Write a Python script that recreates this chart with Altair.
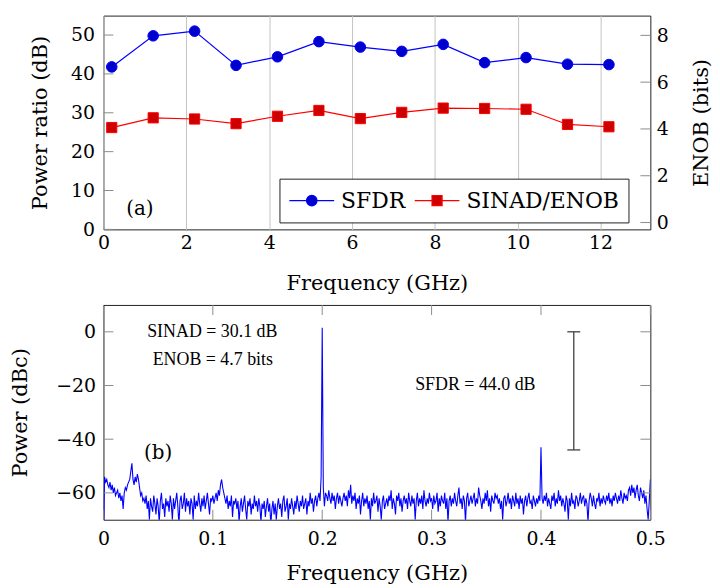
import altair as alt
import pandas as pd

AX_FONT = "DejaVu Serif"
ANN_FONT = "Liberation Serif"

# ---------------- panel (a) data ----------------
freq_a = [0.2, 1.2, 2.2, 3.2, 4.2, 5.2, 6.2, 7.2, 8.2, 9.2, 10.2, 11.2, 12.2]
sfdr_db = [41.8, 49.8, 51.0, 42.2, 44.4, 48.3, 46.9, 45.8, 47.6, 42.9, 44.2, 42.5, 42.4]
sinad_db = [26.2, 28.7, 28.4, 27.2, 29.1, 30.6, 28.5, 30.1, 31.2, 31.1, 30.9, 27.0, 26.4]
series_names = ["SFDR", "SINAD/ENOB"]
x_domain_a = [0, 13.2]
y_domain_db = [0, 55]
xticks_a = [0, 2, 4, 6, 8, 10, 12]
yticks_db = [0, 10, 20, 30, 40, 50]
yticks_enob = [0, 2, 4, 6, 8]

# ---------------- panel (b) data (one bin every 0.001 GHz, 0 .. 0.5) ----------------
spec_step = 0.001
spec_power = [
    -80, -54, -56, -55, -57, -58, -56, -59, -57, -60, -58, -61, -60, -59, -62, -60, -63, -61, -66, -60,
    -58, -59, -57, -56, -55, -52, -49, -55, -57, -54, -56, -53, -55, -58, -61, -60, -63, -62, -64, -61,
    -66, -63, -70, -62, -65, -67, -61, -64, -68, -62, -65, -71, -63, -60, -66, -64, -69, -62, -65, -63,
    -67, -61, -64, -70, -62, -66, -63, -60, -65, -72, -63, -61, -66, -64, -60, -67, -62, -65, -63, -68,
    -62, -64, -70, -61, -66, -63, -65, -60, -64, -67, -62, -65, -61, -66, -63, -60, -64, -68, -62, -63,
    -61, -64, -62, -60, -63, -59, -61, -57, -55, -58, -60, -62, -64, -61, -66, -63, -65, -61, -69, -63,
    -64, -62, -66, -63, -71, -65, -62, -67, -64, -61, -66, -70, -63, -65, -62, -68, -64, -66, -61, -65,
    -63, -67, -62, -65, -71, -64, -66, -63, -69, -65, -62, -67, -64, -72, -66, -63, -68, -64, -70, -65,
    -62, -66, -64, -69, -63, -61, -67, -65, -62, -70, -64, -66, -62, -65, -68, -63, -66, -61, -64, -67,
    -63, -65, -61, -66, -64, -62, -68, -63, -65, -60, -64, -62, -67, -63, -61, -65, -62, -60, -63, -54,
    1.5, -58, -65, -60, -61, -63, -59, -62, -64, -60, -63, -61, -66, -62, -60, -64, -61, -63, -65, -62,
    -60, -63, -61, -65, -59, -62, -57, -64, -61, -63, -60, -66, -62, -64, -61, -68, -63, -60, -65, -62,
    -64, -61, -66, -63, -70, -62, -65, -60, -64, -63, -61, -67, -62, -65, -70, -63, -61, -66, -64, -62,
    -65, -61, -63, -59, -66, -62, -64, -68, -61, -63, -60, -65, -62, -67, -63, -61, -64, -62, -66, -60,
    -63, -65, -61, -64, -62, -70, -63, -60, -65, -62, -64, -61, -66, -59, -63, -65, -62, -64, -60, -63,
    -62, -66, -61, -64, -63, -60, -67, -62, -65, -61, -63, -64, -60, -66, -62, -71, -63, -61, -65, -62,
    -64, -60, -63, -65, -61, -58, -64, -62, -66, -61, -63, -71, -62, -60, -65, -63, -61, -64, -62, -60,
    -65, -62, -64, -58, -61, -63, -66, -62, -64, -60, -63, -59, -65, -62, -67, -61, -63, -64, -60, -62,
    -61, -64, -62, -66, -63, -70, -62, -61, -65, -63, -60, -64, -62, -66, -61, -63, -65, -60, -64, -62,
    -66, -61, -64, -62, -68, -63, -61, -65, -62, -60, -64, -63, -66, -61, -63, -65, -62, -64, -61, -63,
    -43, -62, -64, -61, -63, -60, -65, -62, -64, -66, -61, -63, -60, -65, -62, -64, -59, -63, -61, -65,
    -62, -64, -67, -61, -63, -70, -62, -65, -60, -64, -63, -66, -61, -62, -65, -63, -60, -64, -62, -61,
    -65, -62, -64, -71, -63, -60, -62, -65, -61, -64, -66, -62, -63, -60, -65, -62, -64, -61, -63, -64,
    -61, -63, -60, -64, -62, -65, -61, -63, -60, -62, -64, -61, -63, -59, -62, -64, -60, -62, -61, -63,
    -59, -58, -61, -57, -60, -58, -62, -59, -57, -61, -63, -58, -60, -62, -59, -64, -61, -66, -70, -63,
    -55,
]
x_domain_b = [0, 0.5]
y_domain_b = [-70, 10]
xticks_b = [0, 0.1, 0.2, 0.3, 0.4, 0.5]
yticks_b = [-60, -40, -20, 0]

sfdr_bar_freq = 0.43
sfdr_bar_top = 0.0
sfdr_bar_bottom = -44.0
ann_text = ["SINAD = 30.1 dB", "ENOB = 4.7 bits", "SFDR = 44.0 dB"]
ann_freq = [0.0995, 0.1, 0.34]
ann_power = [0.0, -10.4, -20.0]

# ---------------- tables ----------------
df_a = pd.DataFrame({
    "freq": freq_a + freq_a,
    "value": sfdr_db + sinad_db,
    "series": [series_names[0]] * len(freq_a) + [series_names[1]] * len(freq_a),
})
spec_df = pd.DataFrame({
    "freq": [round(i * spec_step, 4) for i in range(len(spec_power))],
    "power": spec_power,
})

TICK_COLOR = "#8c8c8c"
TICK_LEN = 10


def inward_ticks(xs, ys, xvals, yvals, orient, shift, xaxis=None, yaxis=None):
    """Short inward tick marks along one edge of the frame (positions from the tick lists)."""
    df = pd.DataFrame({"x": xvals, "y": yvals})
    kw = {"xOffset": shift} if orient == "horizontal" else {"yOffset": shift}
    return alt.Chart(df).mark_tick(orient=orient, size=TICK_LEN, thickness=1, color=TICK_COLOR,
                                   opacity=1, **kw).encode(
        x=alt.X("x:Q", scale=xs, axis=xaxis),
        y=alt.Y("y:Q", scale=ys, axis=yaxis),
    )


# ---------------- panel (a) ----------------
xs_a = alt.Scale(domain=x_domain_a, nice=False, zero=False)
ys_db = alt.Scale(domain=y_domain_db, nice=False, zero=False)
ys_enob = alt.Scale(domain=[(y_domain_db[0] - 1.76) / 6.02, (y_domain_db[1] - 1.76) / 6.02],
                    nice=False, zero=False)

# legend samples: a line with the marker in the middle (unit box -1..1)
CIRCLE_LEG = "M-1,0H-0.235M0.235,0H1M-0.235,0A0.235,0.235,0,1,0,0.235,0A0.235,0.235,0,1,0,-0.235,0Z"
SQUARE_LEG = "M-1,0H-0.225M0.225,0H1M-0.225,-0.225H0.225V0.225H-0.225Z"
LEG_LINE = 45

legend_a = alt.Legend(
    title=None, orient="none", legendX=177, legendY=164, direction="horizontal",
    strokeColor="#222222", fillColor="white", padding=9, labelFont=AX_FONT, labelFontSize=22,
    labelColor="black", symbolSize=LEG_LINE * LEG_LINE, symbolStrokeWidth=1.2, clipHeight=26,
    columnPadding=8, labelOffset=6, zindex=1,
)

ticks_a_left = inward_ticks(xs_a, ys_db, [x_domain_a[0]] * len(yticks_db), yticks_db, "horizontal",
                            TICK_LEN / 2)

lines_a = alt.Chart(df_a).transform_calculate(series_l="datum.series + ' '").mark_line(strokeWidth=1.2).encode(
    x=alt.X("freq:Q", scale=xs_a, axis=alt.Axis(
        orient="bottom", values=xticks_a, title="Frequency (GHz)", grid=True, gridColor="#c4c4c4",
        gridWidth=1, ticks=False, tickSize=0, domain=False, labelPadding=4, titlePadding=20,
        labelFlush=False, format="d")),
    y=alt.Y("value:Q", scale=ys_db, axis=alt.Axis(
        orient="left", values=yticks_db, title="Power ratio (dB)", grid=False, ticks=False, tickSize=0,
        domain=False, labelPadding=9, titlePadding=20, labelFlush=False, format="d")),
    color=alt.Color("series_l:N", scale=alt.Scale(domain=[s + " " for s in series_names],
                                                   range=["#0000ff", "#ff0000"]), legend=None),
)

sfdr_pts = alt.Chart(df_a).transform_filter(alt.datum.series == series_names[0]).mark_point(
    shape="circle", filled=True, fill="#0000cc", stroke="#0000ff", strokeWidth=1, size=113, opacity=1
).encode(
    x=alt.X("freq:Q", scale=xs_a, axis=None),
    y=alt.Y("value:Q", scale=ys_db, axis=None),
)
sinad_pts = alt.Chart(df_a).transform_filter(alt.datum.series == series_names[1]).mark_point(
    shape="square", filled=True, fill="#cc0000", stroke="#ff0000", strokeWidth=1, size=105, opacity=1
).encode(
    x=alt.X("freq:Q", scale=xs_a, axis=None),
    y=alt.Y("value:Q", scale=ys_db, axis=None),
)

# legend-only layer: no rows are drawn, the entries come from the fixed scale domains
legend_layer = alt.Chart(df_a).transform_filter("false").mark_point(
    filled=True, opacity=1, strokeWidth=1.2
).encode(
    x=alt.X("freq:Q", scale=xs_a, axis=None),
    y=alt.Y("value:Q", scale=ys_db, axis=None),
    shape=alt.Shape("series:N", scale=alt.Scale(domain=series_names, range=[CIRCLE_LEG, SQUARE_LEG]),
                    legend=legend_a),
    fill=alt.Fill("series:N", scale=alt.Scale(domain=series_names, range=["#0000cc", "#cc0000"]),
                  legend=legend_a),
    stroke=alt.Stroke("series:N", scale=alt.Scale(domain=series_names, range=["#0000ff", "#ff0000"]),
                      legend=legend_a),
)

label_a = alt.Chart(pd.DataFrame({"freq": [0.88], "value": [5.2], "t": ["(a)"]})).mark_text(
    font=AX_FONT, fontSize=20, color="black", align="center", baseline="middle"
).encode(
    x=alt.X("freq:Q", scale=xs_a, axis=None),
    y=alt.Y("value:Q", scale=ys_db, axis=None),
    text="t:N",
)

left_a = alt.layer(lines_a, ticks_a_left, sfdr_pts, sinad_pts, label_a, legend_layer).resolve_axis(
    x="independent", y="independent")

# right (ENOB) axis carried by its inward tick marks
right_a = inward_ticks(
    xs_a, ys_enob, [x_domain_a[1]] * len(yticks_enob), yticks_enob, "horizontal", -TICK_LEN / 2,
    yaxis=alt.Axis(orient="right", values=yticks_enob, title="ENOB (bits)", titleAngle=270,
                   titleBaseline="top", grid=False, ticks=False, tickSize=0, domain=False,
                   labelPadding=6, titlePadding=22, labelFlush=False, format="d"),
)

panel_a = alt.layer(left_a, right_a).resolve_scale(y="independent").properties(width=550, height=215)

# ---------------- panel (b) ----------------
xs_b = alt.Scale(domain=x_domain_b, nice=False, zero=False)
ys_b = alt.Scale(domain=y_domain_b, nice=False, zero=False)

ticks_b = [
    inward_ticks(xs_b, ys_b, [x_domain_b[0]] * len(yticks_b), yticks_b, "horizontal", TICK_LEN / 2),
    inward_ticks(xs_b, ys_b, [x_domain_b[1]] * len(yticks_b), yticks_b, "horizontal", -TICK_LEN / 2),
    inward_ticks(xs_b, ys_b, xticks_b, [y_domain_b[0]] * len(xticks_b), "vertical", -TICK_LEN / 2),
    inward_ticks(xs_b, ys_b, xticks_b, [y_domain_b[1]] * len(xticks_b), "vertical", TICK_LEN / 2),
]

spec_line = alt.Chart(spec_df).mark_line(color="#0000ff", strokeWidth=1.1, clip=True).encode(
    x=alt.X("freq:Q", scale=xs_b, axis=alt.Axis(
        orient="bottom", values=xticks_b, title="Frequency (GHz)", grid=False, ticks=False, tickSize=0,
        domain=False, labelPadding=10, titlePadding=14, labelFlush=False, format="~g")),
    y=alt.Y("power:Q", scale=ys_b, axis=alt.Axis(
        orient="left", values=yticks_b, title="Power (dBc)", grid=False, ticks=False, tickSize=0,
        domain=False, labelPadding=8, titlePadding=25, labelFlush=False, format="d")),
    order="freq:Q",
)

err_df = pd.DataFrame({"freq": [sfdr_bar_freq], "top": [sfdr_bar_top], "bottom": [sfdr_bar_bottom]})
err_rule = alt.Chart(err_df).mark_rule(color="#404040", strokeWidth=1.3).encode(
    x=alt.X("freq:Q", scale=xs_b, axis=None),
    y=alt.Y("top:Q", scale=ys_b, axis=None),
    y2="bottom:Q",
)
cap_df = pd.DataFrame({"freq": [sfdr_bar_freq, sfdr_bar_freq], "power": [sfdr_bar_top, sfdr_bar_bottom]})
err_caps = alt.Chart(cap_df).mark_tick(orient="horizontal", size=13, thickness=1.3, color="#404040", opacity=1).encode(
    x=alt.X("freq:Q", scale=xs_b, axis=None),
    y=alt.Y("power:Q", scale=ys_b, axis=None),
)

ann_df = pd.DataFrame({"freq": ann_freq, "power": ann_power, "t": ann_text})
ann = alt.Chart(ann_df).mark_text(font=ANN_FONT, fontSize=18, color="black", align="center", baseline="middle").encode(
    x=alt.X("freq:Q", scale=xs_b, axis=None),
    y=alt.Y("power:Q", scale=ys_b, axis=None),
    text="t:N",
)
label_b = alt.Chart(pd.DataFrame({"freq": [0.05], "power": [-45.0], "t": ["(b)"]})).mark_text(
    font=AX_FONT, fontSize=20, color="black", align="center", baseline="middle"
).encode(
    x=alt.X("freq:Q", scale=xs_b, axis=None),
    y=alt.Y("power:Q", scale=ys_b, axis=None),
    text="t:N",
)

panel_b = alt.layer(spec_line, *ticks_b, err_rule, err_caps, ann, label_b).resolve_axis(
    x="independent", y="independent").properties(width=550, height=216)

chart = alt.vconcat(panel_a, panel_b, spacing=10).properties(
    padding={"left": 1, "top": 5, "right": 0, "bottom": 0}
).configure_view(stroke="#222222", strokeWidth=1).configure_axis(
    labelFont=AX_FONT, labelFontSize=19, labelColor="black",
    titleFont=AX_FONT, titleFontSize=21, titleFontWeight="normal", titleColor="black",
)

chart.save("out.html", embed_options={"renderer": "svg", "actions": False})
